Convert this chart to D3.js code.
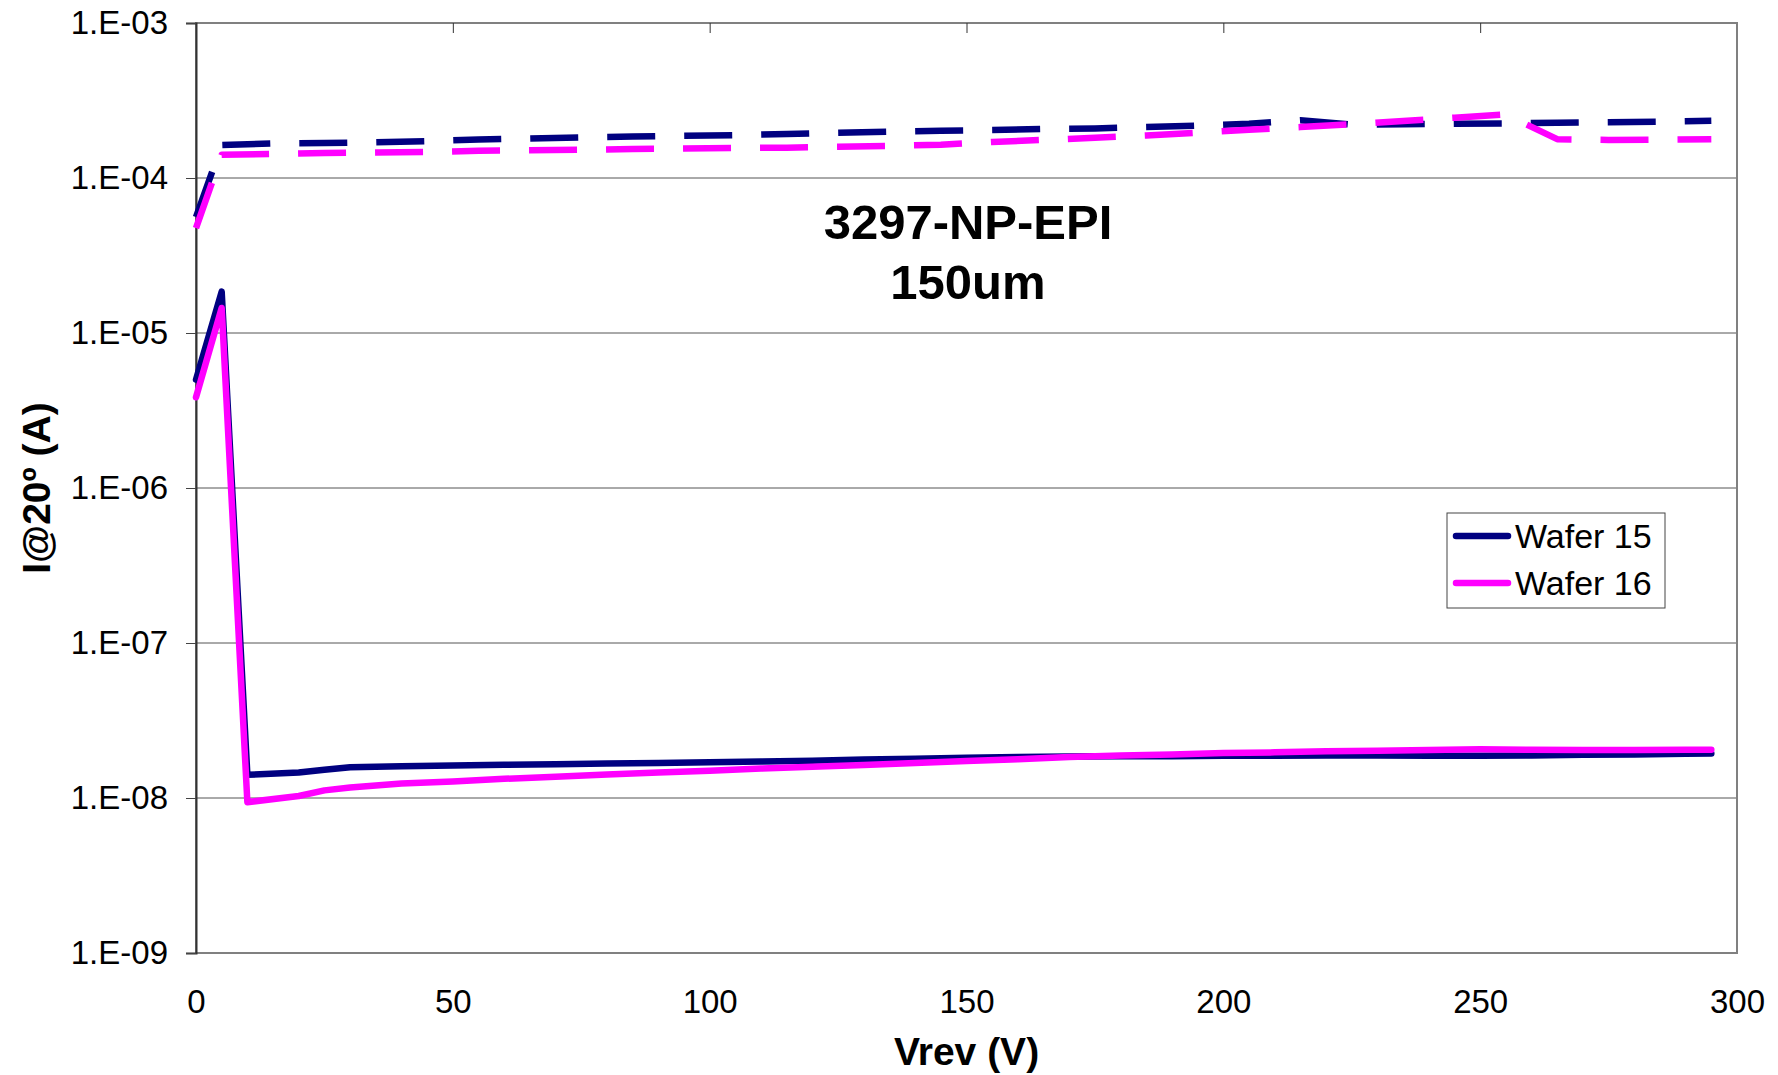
<!DOCTYPE html>
<html>
<head>
<meta charset="utf-8">
<script src="https://cdnjs.cloudflare.com/ajax/libs/d3/7.8.5/d3.min.js"></script>
<style>
body { margin: 0; background: #fff; }
svg { display: block; font-family: "Liberation Sans", Arial, sans-serif; }
</style>
</head>
<body>
<svg width="1778" height="1075"></svg>
<script>
// reverse voltage (V) for the solid curves
const voltsSolid = [0, 5, 10, 20, 25, 30, 40, 50, 60, 70, 80, 90, 100, 110, 120, 130, 140, 150,
    160, 170, 180, 190, 200, 210, 220, 230, 240, 250, 260, 270, 280, 290, 295];
const wafer15 = [5.0e-6, 1.85e-5, 1.41e-8, 1.46e-8, 1.52e-8, 1.58e-8, 1.60e-8, 1.62e-8, 1.64e-8,
    1.65e-8, 1.67e-8, 1.68e-8, 1.70e-8, 1.72e-8, 1.74e-8, 1.77e-8, 1.79e-8, 1.82e-8, 1.84e-8,
    1.85e-8, 1.86e-8, 1.86e-8, 1.87e-8, 1.87e-8, 1.88e-8, 1.88e-8, 1.87e-8, 1.87e-8, 1.88e-8,
    1.90e-8, 1.91e-8, 1.93e-8, 1.94e-8];
const wafer16 = [3.85e-6, 1.45e-5, 9.4e-9, 1.03e-8, 1.12e-8, 1.17e-8, 1.24e-8, 1.28e-8, 1.33e-8,
    1.37e-8, 1.42e-8, 1.46e-8, 1.50e-8, 1.55e-8, 1.59e-8, 1.63e-8, 1.68e-8, 1.73e-8, 1.78e-8,
    1.84e-8, 1.88e-8, 1.91e-8, 1.95e-8, 1.97e-8, 2.00e-8, 2.02e-8, 2.04e-8, 2.06e-8, 2.05e-8,
    2.04e-8, 2.04e-8, 2.05e-8, 2.05e-8];

// reverse voltage (V) for the dashed curves
const voltsDashed = [0, 5, 15, 25, 35, 45, 55, 65, 75, 85, 95, 105, 115, 125, 135, 145, 155,
    165, 175, 185, 195, 205, 215, 225, 235, 245, 255, 265, 275, 285, 295];
const wafer15b = [5.6e-5, 1.63e-4, 1.67e-4, 1.68e-4, 1.70e-4, 1.73e-4, 1.77e-4, 1.80e-4, 1.83e-4,
    1.85e-4, 1.87e-4, 1.89e-4, 1.92e-4, 1.96e-4, 1.99e-4, 2.02e-4, 2.04e-4, 2.07e-4, 2.09e-4,
    2.13e-4, 2.18e-4, 2.24e-4, 2.36e-4, 2.21e-4, 2.22e-4, 2.24e-4, 2.25e-4, 2.27e-4, 2.29e-4,
    2.31e-4, 2.34e-4];
const wafer16b = [4.75e-5, 1.41e-4, 1.43e-4, 1.45e-4, 1.46e-4, 1.47e-4, 1.50e-4, 1.51e-4, 1.52e-4,
    1.54e-4, 1.55e-4, 1.56e-4, 1.57e-4, 1.59e-4, 1.61e-4, 1.64e-4, 1.71e-4, 1.76e-4, 1.82e-4,
    1.88e-4, 1.96e-4, 2.05e-4, 2.13e-4, 2.22e-4, 2.33e-4, 2.45e-4, 2.57e-4, 1.78e-4, 1.76e-4,
    1.77e-4, 1.78e-4];

const yTicks = [1e-9, 1e-8, 1e-7, 1e-6, 1e-5, 1e-4, 1e-3];
const yTickLabels = ['1.E-09', '1.E-08', '1.E-07', '1.E-06', '1.E-05', '1.E-04', '1.E-03'];
const xTicks = [0, 50, 100, 150, 200, 250, 300];
const legendNames = ['Wafer 15', 'Wafer 16'];

const plotL = 196, plotR = 1737, plotT = 23, plotB = 953;
const navy = '#000080', pink = '#ff00ff';

const svg = d3.select('svg');

const x = d3.scaleLinear().domain([0, 300]).range([plotL, plotR]);
const y = d3.scaleLog().domain([1e-9, 1e-3]).range([plotB, plotT]);

// gridlines
svg.append('g')
    .selectAll('line')
    .data(yTicks)
    .enter()
    .append('line')
    .attr('x1', plotL).attr('x2', plotR)
    .attr('y1', d => y(d)).attr('y2', d => y(d))
    .attr('stroke', '#555').attr('stroke-width', 1);

// plot border
svg.append('rect')
    .attr('x', plotL).attr('y', plotT)
    .attr('width', plotR - plotL).attr('height', plotB - plotT)
    .attr('fill', 'none').attr('stroke', '#808080').attr('stroke-width', 2);

// y axis
const yAxis = svg.append('g')
    .attr('transform', `translate(${plotL},0)`)
    .call(d3.axisLeft(y).tickValues(yTicks)
        .tickFormat((d, i) => yTickLabels[i]).tickSize(10).tickPadding(18));
yAxis.select('.domain').attr('stroke', '#333').attr('stroke-width', 2);
yAxis.selectAll('.tick line').attr('stroke', '#444');
yAxis.selectAll('text').attr('font-size', 33).attr('fill', '#000')
    .attr('font-family', '"Liberation Sans", Arial, sans-serif');

// x labels at the bottom
const xAxis = svg.append('g')
    .attr('transform', `translate(0,${plotB})`)
    .call(d3.axisBottom(x).tickValues(xTicks).tickSize(0).tickPadding(37));
xAxis.select('.domain').remove();
xAxis.selectAll('text').attr('font-size', 33).attr('fill', '#000')
    .attr('font-family', '"Liberation Sans", Arial, sans-serif');

// x tick marks along the top edge
const xTop = svg.append('g')
    .attr('transform', `translate(0,${plotT})`)
    .call(d3.axisBottom(x).tickValues(xTicks.slice(1, -1)).tickSize(10).tickFormat(''));
xTop.select('.domain').remove();
xTop.selectAll('.tick line').attr('stroke', '#333');

// curves
const line = d3.line().x(d => x(d[0])).y(d => y(d[1]));
const series = [
    { xs: voltsSolid, ys: wafer15, color: navy, dash: null },
    { xs: voltsSolid, ys: wafer16, color: pink, dash: null },
    { xs: voltsDashed, ys: wafer15b, color: navy, dash: '48,29' },
    { xs: voltsDashed, ys: wafer16b, color: pink, dash: '48,29' }
];

svg.append('g')
    .selectAll('path')
    .data(series)
    .enter()
    .append('path')
    .attr('d', s => line(s.xs.map((v, i) => [v, s.ys[i]])))
    .attr('fill', 'none')
    .attr('stroke', s => s.color)
    .attr('stroke-width', 6.5)
    .attr('stroke-linejoin', 'round')
    .attr('stroke-linecap', s => s.dash ? 'butt' : 'round')
    .attr('stroke-dasharray', s => s.dash);

// title
const title = svg.append('text')
    .attr('x', 968).attr('text-anchor', 'middle')
    .attr('font-size', 49).attr('font-weight', 'bold');
title.append('tspan').attr('x', 968).attr('y', 239).text('3297-NP-EPI');
title.append('tspan').attr('x', 968).attr('y', 299).text('150um');

// axis titles
svg.append('text')
    .attr('x', (plotL + plotR) / 2).attr('y', 1065)
    .attr('text-anchor', 'middle')
    .attr('font-size', 39).attr('font-weight', 'bold')
    .text('Vrev (V)');

svg.append('text')
    .attr('transform', 'translate(50,488) rotate(-90)')
    .attr('text-anchor', 'middle')
    .attr('font-size', 39).attr('font-weight', 'bold')
    .text('I@20º (A)');

// legend
const legend = svg.append('g').attr('transform', 'translate(1447,513)');
legend.append('rect')
    .attr('width', 218).attr('height', 95)
    .attr('fill', '#fff').attr('stroke', '#444').attr('stroke-width', 1);
const item = legend.selectAll('.item')
    .data(legendNames)
    .enter()
    .append('g')
    .attr('transform', (d, i) => `translate(0,${23 + i * 47})`);
item.append('line')
    .attr('x1', 9).attr('x2', 61)
    .attr('stroke', (d, i) => [navy, pink][i])
    .attr('stroke-width', 6.5).attr('stroke-linecap', 'round');
item.append('text')
    .attr('x', 68).attr('y', 12)
    .attr('font-size', 34)
    .text(d => d);
</script>
</body>
</html>
